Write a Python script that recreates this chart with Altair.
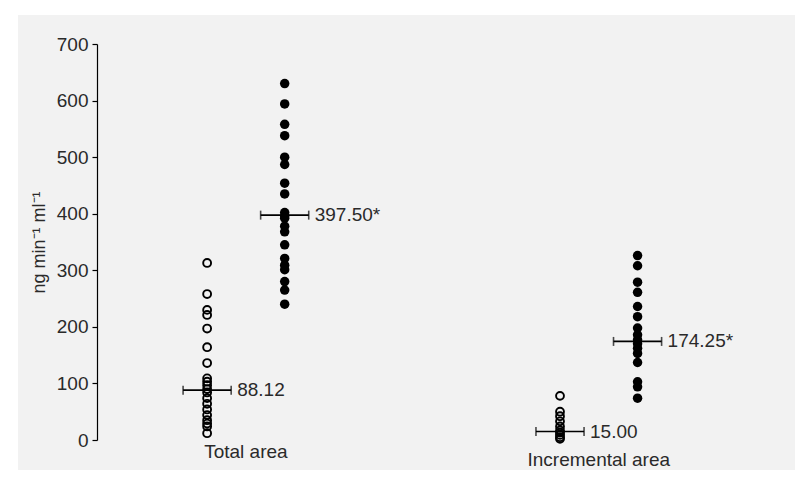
import altair as alt
import pandas as pd

# ---- data ----
total_open = [313, 258, 230, 221, 197, 164, 136, 109, 103, 97, 90, 84, 74, 64, 54, 44, 35, 29, 24, 12]
total_filled = [630, 594, 558, 538, 500, 487, 454, 435, 402, 396, 392, 378, 368, 345, 321, 309, 301, 280, 265, 240]
incr_open = [78, 50, 42, 33, 24, 17, 13, 9, 5, 2]
incr_filled = [326, 308, 279, 261, 236, 218, 198, 186, 177, 170, 162, 153, 137, 103, 94, 74]

series_pos = [1.42, 2.42, 5.97, 6.97]
series_kind = ["open", "filled", "open", "filled"]
medians = [88.12, 397.50, 15.00, 174.25]
median_labels = ["88.12", "397.50*", "15.00", "174.25*"]
group_names = ["Total area", "Incremental area"]
group_pos = [1.92, 6.47]
half_width = 0.31

# ---- tables ----
rows = []
for pos, kind, vals in zip(series_pos, series_kind,
                           [total_open, total_filled, incr_open, incr_filled]):
    for v in vals:
        rows.append({"pos": pos, "value": v, "kind": kind})
points = pd.DataFrame(rows)

med = pd.DataFrame({
    "pos": series_pos,
    "median": medians,
    "label": median_labels,
})
med["lo"] = med["pos"] - half_width
med["hi"] = med["pos"] + half_width

groups = pd.DataFrame({"name": group_names, "gpos": group_pos})

xscale = alt.Scale(domain=[0, 9])
yscale = alt.Scale(domain=[0, 700])
FONT = "Liberation Sans"
TXT = "#2a2a2a"
FS = 19

bg = alt.Chart(pd.DataFrame({"a": [0]})).mark_rect(color="#f2f2f2").encode(
    x=alt.value(-79), x2=alt.value(698), y=alt.value(-29), y2=alt.value(426)
)

base_pts = alt.Chart(points)

yaxis = alt.Axis(
    values=list(range(0, 701, 100)), grid=False, zindex=1,
    domainColor="black", tickColor="black", tickSize=5, domainWidth=1.2, tickWidth=1.2,
    labelFontSize=FS, labelColor=TXT, labelFont=FONT, labelPadding=4,
    title="ng min⁻¹ ml⁻¹", titleFontSize=18, titleFontWeight="normal",
    titleColor=TXT, titleFont=FONT, titlePadding=8,
)

open_pts = base_pts.transform_filter(alt.datum.kind == "open").mark_point(
    shape="circle", filled=False, color="black", size=62, strokeWidth=1.9, opacity=1
).encode(
    x=alt.X("pos:Q", scale=xscale, axis=None),
    y=alt.Y("value:Q", scale=yscale, axis=yaxis),
)

filled_pts = base_pts.transform_filter(alt.datum.kind == "filled").mark_circle(
    color="black", size=90, opacity=1
).encode(
    x=alt.X("pos:Q", scale=xscale, axis=None),
    y=alt.Y("value:Q", scale=yscale, axis=yaxis),
)

med_base = alt.Chart(med)
med_rule = med_base.mark_rule(color="black", strokeWidth=1.6).encode(
    x=alt.X("lo:Q", scale=xscale, axis=None), x2="hi:Q",
    y=alt.Y("median:Q", scale=yscale, axis=yaxis),
)
med_caps = med_base.transform_fold(["lo", "hi"], as_=["end", "xend"]).mark_tick(
    orient="vertical", color="black", size=9, thickness=1.6
).encode(
    x=alt.X("xend:Q", scale=xscale, axis=None),
    y=alt.Y("median:Q", scale=yscale, axis=yaxis),
)
med_text = med_base.mark_text(
    align="left", baseline="middle", dx=6, fontSize=FS, font=FONT, color=TXT
).encode(
    x=alt.X("hi:Q", scale=xscale, axis=None),
    y=alt.Y("median:Q", scale=yscale, axis=yaxis),
    text="label:N",
)

g1 = alt.Chart(groups).transform_filter(alt.datum.name == group_names[0]).mark_text(
    align="center", baseline="middle", dy=12, fontSize=FS, font=FONT, color=TXT
).encode(
    x=alt.X("gpos:Q", scale=xscale, axis=None),
    y=alt.value(396),
    text="name:N",
)
g2 = alt.Chart(groups).transform_filter(alt.datum.name == group_names[1]).mark_text(
    align="center", baseline="middle", dy=20, fontSize=FS, font=FONT, color=TXT
).encode(
    x=alt.X("gpos:Q", scale=xscale, axis=None),
    y=alt.value(396),
    text="name:N",
)

chart = alt.layer(
    bg, open_pts, filled_pts, med_rule, med_caps, med_text, g1, g2
).properties(
    width=698, height=396,
    autosize=alt.AutoSizeParams(type="none"),
    padding={"left": 97, "top": 44, "right": 16, "bottom": 43},
    background="white",
).configure_view(stroke=None)

chart.save("out.html", embed_options={"renderer": "svg", "actions": False})
